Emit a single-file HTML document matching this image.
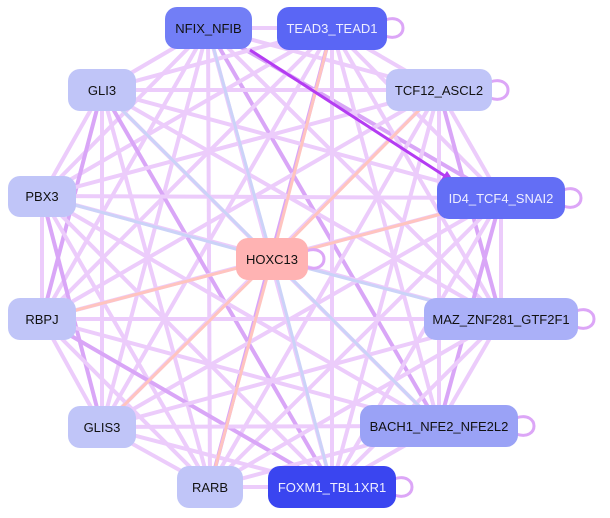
<!DOCTYPE html>
<html><head><style>
body{margin:0;width:610px;height:518px;background:#fff;overflow:hidden;position:relative;font-family:"Liberation Sans",sans-serif}
svg{position:absolute;left:0;top:0}
.n{position:absolute;border-radius:12px;display:flex;align-items:center;justify-content:center;font-size:13px;color:#111}
</style></head><body>
<svg id="s" width="610" height="518"></svg>
<div class="n" style="left:165px;top:7px;width:87px;height:42px;background:#727ef6">NFIX_NFIB</div>
<div class="n" style="left:277px;top:7px;width:110px;height:43px;background:#5a66f5;color:#eef">TEAD3_TEAD1</div>
<div class="n" style="left:68px;top:69px;width:68px;height:42px;background:#c0c5f8">GLI3</div>
<div class="n" style="left:386px;top:69px;width:106px;height:42px;background:#c0c5f8">TCF12_ASCL2</div>
<div class="n" style="left:8px;top:176px;width:68px;height:41px;background:#c0c5f8">PBX3</div>
<div class="n" style="left:437px;top:177px;width:128px;height:42px;background:#636ef5;color:#eef">ID4_TCF4_SNAI2</div>
<div class="n" style="left:236px;top:238px;width:72px;height:42px;background:#ffb3b3">HOXC13</div>
<div class="n" style="left:8px;top:298px;width:68px;height:42px;background:#c0c5f8">RBPJ</div>
<div class="n" style="left:424px;top:298px;width:154px;height:42px;background:#aab0f8">MAZ_ZNF281_GTF2F1</div>
<div class="n" style="left:68px;top:406px;width:68px;height:42px;background:#c0c5f8">GLIS3</div>
<div class="n" style="left:360px;top:405px;width:158px;height:42px;background:#9aa2f6">BACH1_NFE2_NFE2L2</div>
<div class="n" style="left:177px;top:466px;width:66px;height:42px;background:#c0c5f8">RARB</div>
<div class="n" style="left:268px;top:466px;width:128px;height:42px;background:#3a45f0;color:#eef">FOXM1_TBL1XR1</div>
<script>
var N={nf:[208,28],te:[332,28],g3:[102,90],tc:[439,90],pb:[42,196],id:[501,198],ho:[272,259],rb:[42,319],mz:[501,319],gs:[102,427],ba:[439,426],ra:[210,487],fo:[332,487]};
var k=Object.keys(N),h='';
function L(a,b,c,w){h+='<line x1="'+a[0]+'" y1="'+a[1]+'" x2="'+b[0]+'" y2="'+b[1]+'" stroke="'+c+'" stroke-width="'+w+'"/>';}
for(var i=0;i<k.length;i++)for(var j=i+1;j<k.length;j++){var a=k[i],b=k[j];if(a=='ho'||b=='ho')continue;
var c=((i*7+j*3)%5==0)?'#d9a6f7':'#ecccfb';L(N[a],N[b],c,4);}
k.forEach(function(a,i){if(a=='ho')return;L(N[a],N.ho,i%2?'#ffc4bf':'#cbd3f8',3);});
L([250,50],[448,178],'#b43cf2',3);
h+='<polygon points="455,183 440,181 447,171" fill="#b43cf2"/>';
[['te',387],['tc',492],['id',565],['mz',578],['ba',518],['fo',396],['ho',308]].forEach(function(p){var y=N[p[0]][1];h+='<path d="M'+(p[1]-2)+' '+(y-8)+' C'+(p[1]+22)+' '+(y-16)+' '+(p[1]+22)+' '+(y+16)+' '+(p[1]-2)+' '+(y+8)+'" fill="none" stroke="#dca6f7" stroke-width="3"/>';});
document.getElementById('s').innerHTML=h;
</script>
</body></html>
